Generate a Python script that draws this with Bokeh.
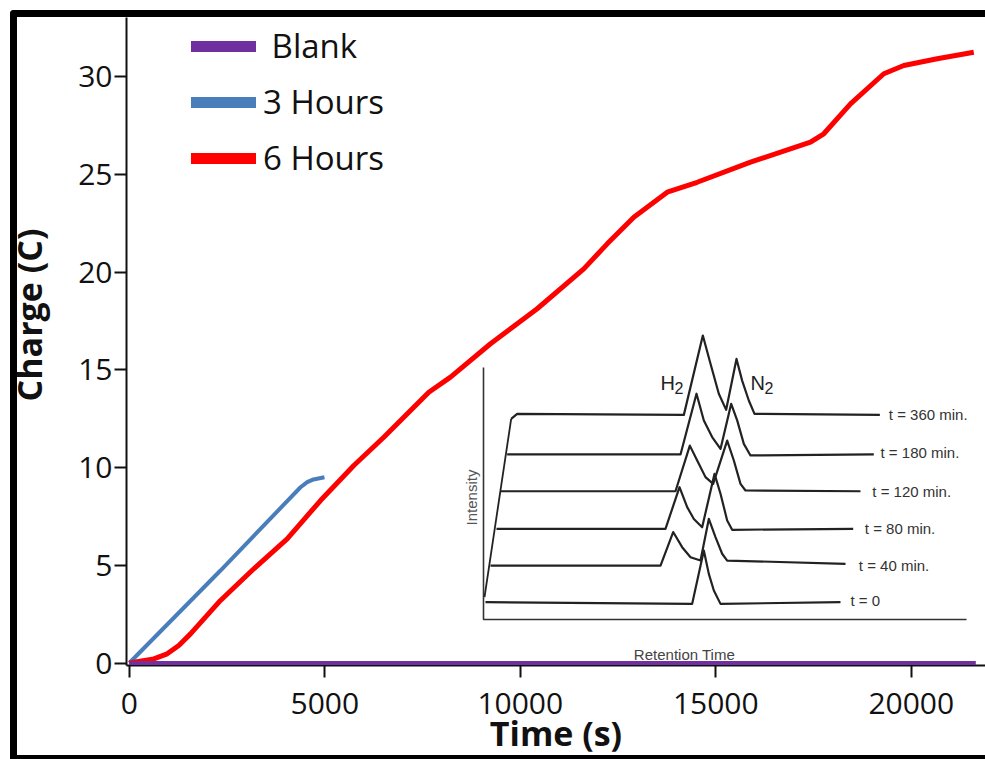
import math
from bokeh.plotting import figure
from bokeh.models import Range1d, FixedTicker, Legend, LegendItem, InlineStyleSheet
from bokeh.core.properties import value
from bokeh.embed import file_html
from bokeh.resources import INLINE

# ---------------- main chart data ----------------
blank_time = [0, 21650]
blank_charge = [0, 0]

h3_time = [0, 2332, 4379, 4550, 4711, 4992]
h3_charge = [0, 4.73, 8.99, 9.25, 9.39, 9.50]

h6_time = [0, 627, 969, 1266, 1565, 2332, 3184, 4038, 4890, 5742, 6509, 7660,
           8215, 9238, 10432, 11624, 12223, 12903, 13757, 14524, 15888, 17422,
           17762, 18445, 19297, 19808, 20662, 21598]
h6_charge = [0, 0.21, 0.47, 0.90, 1.49, 3.20, 4.82, 6.35, 8.31, 10.10, 11.55, 13.85,
             14.62, 16.33, 18.12, 20.16, 21.44, 22.80, 24.08, 24.59, 25.62, 26.64,
             27.07, 28.60, 30.14, 30.56, 30.91, 31.24]

series_names = ["\u00a0Blank", "3 Hours", "6 Hours"]
series_colors = ["#7030A0", "#4A7EBB", "#FF0000"]
x_ticks = [0, 5000, 10000, 15000, 20000]
y_ticks = [0, 5, 10, 15, 20, 25, 30]
x_title = "Time (s)"
y_title = "Charge (C)"

# ---------------- inset chromatograms (arbitrary units) ----------------
gc_labels = ["t = 0", "t = 40 min.", "t = 80 min.", "t = 120 min.", "t = 180 min.", "t = 360 min."]
gc_rt_0 = [0.41, 43.20, 45.62, 46.65, 47.69, 49.07, 73.91]
gc_int_0 = [6.9, 6.2, 27.4, 18.1, 11.5, 6.2, 6.9]
gc_rt_40 = [1.45, 36.65, 39.27, 41.13, 42.86, 44.93, 46.65, 48.03, 49.41, 50.45, 74.95]
gc_int_40 = [21.4, 21.4, 34.7, 28.7, 24.7, 23.4, 39.9, 32.7, 26.1, 23.4, 22.1]
gc_rt_80 = [2.69, 37.68, 40.58, 42.17, 43.55, 45.27, 47.83, 49.07, 50.45, 51.48, 76.54]
gc_int_80 = [36.0, 36.0, 52.5, 44.6, 39.9, 36.6, 57.8, 49.9, 39.3, 35.6, 36.0]
gc_rt_120 = [3.52, 39.75, 42.72, 44.24, 45.96, 47.55, 50.45, 51.83, 53.21, 54.24, 78.05]
gc_int_120 = [50.9, 50.9, 69.0, 63.1, 56.5, 53.8, 71.0, 63.1, 53.8, 51.2, 50.9]
gc_rt_180 = [4.90, 40.79, 44.10, 45.62, 47.34, 49.07, 51.28, 52.52, 53.90, 55.28, 80.81]
gc_int_180 = [65.5, 65.5, 89.6, 79.0, 72.4, 67.7, 85.6, 79.0, 69.7, 65.1, 65.5]
gc_rt_360 = [5.73, 6.97, 41.48, 45.41, 47.00, 48.72, 50.24, 52.38, 53.55, 54.93, 56.11, 82.06]
gc_int_360 = [79.6, 81.6, 81.2, 112.7, 101.5, 89.6, 83.2, 103.4, 94.8, 86.9, 81.6, 81.2]
gc_label_rt = [75.98, 77.70, 78.95, 80.50, 82.20, 83.92]
gc_label_int = [7.5, 21.4, 36.0, 50.9, 66.4, 81.2]
gc_wall_rt = [0.21, 5.73]
gc_wall_int = [8.9, 79.6]
gc_axis_rt = [0, 0, 100]
gc_axis_int = [100, 0, 0]
peak_letters = ["H", "N"]
peak_sub = ["2", "2"]
peak_rt = [36.65, 55.3]
peak_int = [94.0, 94.0]

# ---------------- layout constants (page pixels) ----------------
W, H = 985, 759
FRAME_L, FRAME_R, FRAME_T, FRAME_B = 126, 985, 17, 665
X0_PX, PX_PER_S = 128.8, 0.0391
Y0_PX, PX_PER_C = 662.5, 19.55
INSET_X0, INSET_X1 = 483.0, 966.0
INSET_Y0, INSET_Y1 = 619.0, 367.0

x_range = Range1d((FRAME_L - X0_PX) / PX_PER_S, (FRAME_R - X0_PX) / PX_PER_S)
y_range = Range1d((Y0_PX - FRAME_B) / PX_PER_C, (Y0_PX - FRAME_T) / PX_PER_C)

p = figure(width=W, height=H, output_backend="svg", toolbar_location=None,
           x_range=x_range, y_range=y_range,
           min_border_left=FRAME_L, min_border_right=W - FRAME_R,
           min_border_top=FRAME_T, min_border_bottom=H - FRAME_B)
p.outline_line_color = None
p.xgrid.visible = False
p.ygrid.visible = False
p.background_fill_color = "white"
p.border_fill_color = "white"

# picture frame: thick black border drawn over the canvas (left, top, bottom)
p.stylesheets = [InlineStyleSheet(css="""
:host { position: relative; }
:host::after {
  content: "";
  position: absolute;
  left: 10px; top: 10px; right: 0px; bottom: 0px;
  box-sizing: border-box;
  border-left: 7px solid black;
  border-top: 7px solid black;
  border-bottom: 4px solid black;
  border-top-left-radius: 4px;
  pointer-events: none;
  z-index: 50;
}
""")]

ix = (INSET_X1 - INSET_X0) / 100.0
iy = (INSET_Y0 - INSET_Y1) / 100.0
p.extra_x_ranges = {"gc_x": Range1d((FRAME_L - INSET_X0) / ix, (FRAME_R - INSET_X0) / ix)}
p.extra_y_ranges = {"gc_y": Range1d((INSET_Y0 - FRAME_B) / iy, (INSET_Y0 - FRAME_T) / iy),
                    "legend_proxy": Range1d(-1000, -999)}

FONT = "Open Sans"
INSET_FONT = "Liberation Sans"

xa = p.xaxis[0]
ya = p.yaxis[0]
xa.ticker = FixedTicker(ticks=x_ticks)
ya.ticker = FixedTicker(ticks=y_ticks)
for ax in (xa, ya):
    ax.axis_line_width = 2
    ax.axis_line_color = "#111111"
    ax.major_tick_line_width = 2
    ax.major_tick_line_color = "#111111"
    ax.major_tick_in = 0
    ax.major_tick_out = 12
    ax.minor_tick_in = 0
    ax.minor_tick_out = 0
    ax.major_label_text_font = FONT
    ax.major_label_text_font_size = "30px"
    ax.major_label_text_color = "#111111"
    ax.axis_label_text_font = FONT
    ax.axis_label_text_font_style = "bold"
    ax.axis_label_text_font_size = "34px"
    ax.axis_label_text_color = "#111111"
xa.major_label_standoff = 15
ya.major_label_standoff = 2
xa.axis_label = x_title
ya.axis_label = "\u00a0" * 6 + y_title
xa.axis_label_standoff = -7
ya.axis_label_standoff = 23

# ---------------- main series ----------------
r_blank = p.line(blank_time, blank_charge, line_color=series_colors[0], line_width=4, level="overlay")
r_3h = p.line(h3_time, h3_charge, line_color=series_colors[1], line_width=4)
r_6h = p.line(h6_time, h6_charge, line_color=series_colors[2], line_width=5)

# legend swatches: same series on an off-screen range, drawn thicker
proxies = [p.line(t, c, line_color=col, line_width=11, line_cap="round",
                  y_range_name="legend_proxy")
           for t, c, col in zip([blank_time, h3_time, h6_time],
                                [blank_charge, h3_charge, h6_charge], series_colors)]
legend = Legend(items=[LegendItem(label=n, renderers=[r]) for n, r in zip(series_names, proxies)],
                location=(65, FRAME_B - 180))
legend.label_text_font = FONT
legend.label_text_font_size = "33px"
legend.label_text_color = "#111111"
legend.glyph_width = 65
legend.glyph_height = 40
legend.label_height = 40
legend.label_standoff = 7
legend.spacing = 11
legend.padding = 0
legend.margin = 0
legend.border_line_alpha = 0
legend.background_fill_alpha = 0
p.add_layout(legend)

# ---------------- inset ----------------
rn = dict(x_range_name="gc_x", y_range_name="gc_y")
p.line(gc_axis_rt, gc_axis_int, line_color="#333333", line_width=1.6, **rn)
p.line(gc_wall_rt, gc_wall_int, line_color="#222222", line_width=1.8, **rn)
p.multi_line(xs=[gc_rt_0, gc_rt_40, gc_rt_80, gc_rt_120, gc_rt_180, gc_rt_360],
             ys=[gc_int_0, gc_int_40, gc_int_80, gc_int_120, gc_int_180, gc_int_360],
             line_color="#222222", line_width=2.2, line_join="round", **rn)
p.text(x=gc_label_rt, y=gc_label_int, text=gc_labels, text_font=value(INSET_FONT),
       text_font_size="15px", text_color="#333333", text_align="left",
       text_baseline="middle", **rn)
p.text(x=peak_rt, y=peak_int, text=peak_letters, text_font=value(INSET_FONT),
       text_font_size="20px", text_color="#222222", text_align="left",
       text_baseline="alphabetic", **rn)
p.text(x=peak_rt, y=peak_int, text=peak_sub, text_font=value(INSET_FONT),
       text_font_size="16px", text_color="#222222", text_align="left",
       text_baseline="alphabetic", x_offset=14, y_offset=5, **rn)
p.text(x=[-2.5], y=[48.4], text=["Intensity"], text_font=value(INSET_FONT),
       text_font_size="15px", text_color="#555555", text_align="center",
       text_baseline="middle", angle=math.pi / 2, **rn)
p.text(x=[41.6], y=[-13.9], text=["Retention Time"], text_font=value(INSET_FONT),
       text_font_size="15px", text_color="#444444", text_align="center",
       text_baseline="middle", **rn)

open("out.html", "w").write(file_html(p, INLINE))
